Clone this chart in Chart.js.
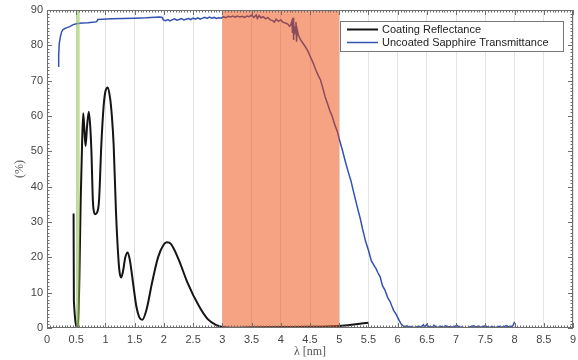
<!DOCTYPE html>
<html>
<head>
<meta charset="utf-8">
<script src="https://cdn.jsdelivr.net/npm/chart.js@4.4.1/dist/chart.umd.min.js"></script>
<style>
  html, body { margin: 0; padding: 0; background: #fff; }
  #wrap { width: 578px; height: 360px; }
</style>
</head>
<body>
<div id="wrap"><canvas id="chart" width="578" height="360"></canvas></div>
<script>
// Coating reflectance (%), [wavelength, value]
const reflectance = [
  [0.455, 32.4], [0.46, 7.7], [0.53, 0], [0.555, 15], [0.575, 35], [0.6, 52], [0.62, 60.8],
  [0.64, 56], [0.66, 51.5], [0.685, 57], [0.715, 61.2], [0.74, 57], [0.76, 50], [0.785, 36],
  [0.81, 32.5], [0.83, 32.2], [0.86, 32.8], [0.89, 36], [0.93, 52], [0.97, 63], [1.0, 67],
  [1.04, 68.1], [1.08, 65], [1.11, 60], [1.14, 52], [1.18, 33], [1.21, 22.8], [1.24, 16],
  [1.27, 14.3], [1.3, 16], [1.34, 20], [1.38, 21.4], [1.42, 19], [1.47, 13], [1.53, 6],
  [1.58, 3], [1.63, 2.3], [1.7, 5], [1.8, 13], [1.9, 20], [2.0, 23.7], [2.05, 24.3],
  [2.12, 23.8], [2.25, 19.5], [2.4, 13], [2.6, 6.2], [2.75, 2.5], [2.9, 0.8], [3.0, 0.3],
  [3.2, 0.1], [3.5, 0.2], [4.0, 0.3], [4.5, 0.35], [5.0, 0.6], [5.25, 1.0], [5.5, 1.5]
];

// Uncoated sapphire transmittance (%), [wavelength, value]
const transmittance = [
  [0.19, 74.1], [0.2, 77.5], [0.21, 80.5], [0.23, 82.5], [0.25, 83.8], [0.27, 84.4], [0.3, 84.7],
  [0.34, 85.0], [0.39, 85.3], [0.44, 85.8], [0.5, 86.1], [0.6, 86.3], [0.7, 86.4], [0.82, 86.6],
  [0.85, 86.7], [0.87, 87.3], [0.95, 87.4], [1.1, 87.5], [1.3, 87.6], [1.5, 87.7], [1.7, 87.8],
  [1.93, 88.0], [1.97, 87.9], [1.99, 87.2], [2.03, 87.0], [2.07, 87.3], [2.1, 86.9], [2.14, 87.2],
  [2.18, 87.5], [2.22, 87.1], [2.26, 87.3], [2.3, 87.6], [2.34, 87.2], [2.38, 87.4], [2.42, 87.6],
  [2.46, 87.3], [2.5, 87.7], [2.54, 87.4], [2.58, 87.8], [2.62, 87.4], [2.66, 87.7], [2.7, 87.9],
  [2.74, 87.6], [2.78, 88.0], [2.82, 87.7], [2.86, 87.9], [2.9, 87.6], [2.94, 87.8], [2.98, 87.7],
  [3.02, 88.1], [3.06, 87.8], [3.1, 88.2], [3.14, 88.0], [3.18, 88.3], [3.22, 88.0], [3.26, 88.3],
  [3.3, 88.0], [3.34, 88.2], [3.38, 87.9], [3.42, 88.3], [3.46, 88.1], [3.5, 88.5], [3.54, 87.9],
  [3.58, 88.6], [3.6, 87.6], [3.63, 88.4], [3.66, 87.8], [3.7, 88.1], [3.74, 87.5], [3.78, 87.9],
  [3.82, 87.2], [3.86, 87.0], [3.89, 86.6], [3.92, 87.4], [3.96, 86.8], [4.0, 87.2], [4.04, 86.5],
  [4.08, 86.3], [4.12, 86.0], [4.15, 85.4], [4.17, 85.8], [4.19, 86.8], [4.2, 83.5], [4.21, 87.8],
  [4.215, 81.5], [4.225, 86.0], [4.235, 83.0], [4.25, 85.2], [4.26, 86.6], [4.27, 81.0],
  [4.28, 84.5], [4.3, 83.0], [4.33, 81.8], [4.37, 80.8], [4.42, 79.6], [4.46, 78.5], [4.5, 77.0],
  [4.53, 75.9], [4.56, 74.8], [4.6, 73.0], [4.64, 71.5], [4.68, 70.2], [4.72, 67.9], [4.76, 65.4],
  [4.8, 63.5], [4.84, 61.5], [4.88, 59.9], [4.92, 57.7], [4.97, 55.5], [5.0, 53.5], [5.05, 50.6],
  [5.1, 47.4], [5.15, 44.4], [5.2, 41.7], [5.24, 38.9], [5.28, 36.2], [5.32, 33.5], [5.36, 31.0],
  [5.4, 28.0], [5.45, 24.6], [5.5, 22.0], [5.55, 19.0], [5.6, 17.6], [5.63, 16.8], [5.66, 15.7],
  [5.7, 14.5], [5.74, 12.0], [5.78, 10.8], [5.83, 8.6], [5.87, 7.5], [5.9, 6.2], [5.93, 5.0],
  [5.97, 4.0], [6.0, 3.0], [6.03, 2.0], [6.06, 1.1], [6.1, 0.5], [6.12, 0.3], [6.16, 0.6],
  [6.2, 0.2], [6.24, 0.4], [6.28, 0.1], [6.32, 0.3], [6.36, 0.5], [6.4, 0.2], [6.44, 0.9],
  [6.46, 0.3], [6.5, 1.0], [6.53, 0.3], [6.56, 0.4], [6.6, 0.2], [6.62, 0.8], [6.66, 0.2],
  [6.7, 0.3], [6.74, 0.5], [6.78, 0.2], [6.82, 0.6], [6.86, 0.3], [6.9, 0.4], [6.94, 0.2],
  [6.98, 0.5], [7.02, 0.7], [7.06, 0.2], [7.1, 0.3], [7.14, 0.1], [7.18, 0.0], [7.22, 0.2],
  [7.26, 0.4], [7.3, 0.6], [7.34, 0.3], [7.38, 0.5], [7.42, 0.2], [7.46, 0.4], [7.5, 0.6],
  [7.54, 0.3], [7.58, 0.2], [7.62, 0.4], [7.66, 0.1], [7.7, 0.3], [7.74, 0.5], [7.78, 0.2],
  [7.82, 0.4], [7.86, 0.7], [7.9, 0.3], [7.94, 0.5], [7.97, 0.6], [7.99, 1.3], [8.0, 1.8]
];

// Highlighted wavelength bands [from, to]
const greenBand = [0.5, 0.56];
const orangeBand = [3, 5];

const seriesLabels = ['Coating Reflectance', 'Uncoated Sapphire Transmittance'];
const xRange = [0, 9];
const yRange = [0, 90];

const SANS = "'Liberation Sans', Arial, sans-serif";
const SERIF = "'Liberation Serif', 'Times New Roman', serif";

function toPoints(arr) {
  return arr.map(function(p) { return { x: p[0], y: p[1] }; });
}

// bands go on top of the lines, semi transparent
const bandsPlugin = {
  id: 'bands',
  afterDatasetsDraw: function(chart) {
    const ctx = chart.ctx;
    const x = chart.scales.x;
    const area = chart.chartArea;
    ctx.save();
    ctx.fillStyle = 'rgba(150, 200, 90, 0.6)';
    ctx.fillRect(x.getPixelForValue(greenBand[0]), area.top,
      x.getPixelForValue(greenBand[1]) - x.getPixelForValue(greenBand[0]), area.bottom - area.top);
    ctx.fillStyle = 'rgba(235, 67, 0, 0.49)';
    ctx.fillRect(x.getPixelForValue(orangeBand[0]), area.top,
      x.getPixelForValue(orangeBand[1]) - x.getPixelForValue(orangeBand[0]), area.bottom - area.top);
    ctx.restore();
  }
};

// matlab style box, inward ticks and the legend
const boxPlugin = {
  id: 'box',
  afterDraw: function(chart) {
    const ctx = chart.ctx;
    const x = chart.scales.x;
    const y = chart.scales.y;
    const a = chart.chartArea;
    ctx.save();
    ctx.strokeStyle = '#6e6e6e';
    ctx.lineWidth = 1;
    ctx.strokeRect(a.left + 0.5, a.top + 0.5, a.right - a.left - 1, a.bottom - a.top - 1);

    ctx.beginPath();
    for (let i = 0; i <= 180; i++) {
      const px = Math.round(x.getPixelForValue(i * 0.05)) + 0.5;
      const len = (i % 10 === 0) ? 5 : 2.5;
      ctx.moveTo(px, a.bottom); ctx.lineTo(px, a.bottom - len);
      ctx.moveTo(px, a.top); ctx.lineTo(px, a.top + len);
    }
    for (let j = 0; j <= 90; j++) {
      const py = Math.round(y.getPixelForValue(j)) + 0.5;
      const len = (j % 10 === 0) ? 5 : 2.5;
      ctx.moveTo(a.left, py); ctx.lineTo(a.left + len, py);
      ctx.moveTo(a.right, py); ctx.lineTo(a.right - len, py);
    }
    ctx.stroke();

    // legend box
    const lw = 223, lh = 30;
    const lx = a.right - 10 - lw;
    const ly = a.top + 11;
    ctx.fillStyle = '#ffffff';
    ctx.fillRect(lx, ly, lw, lh);
    ctx.strokeStyle = '#777777';
    ctx.strokeRect(lx + 0.5, ly + 0.5, lw, lh);
    ctx.font = '11px ' + SANS;
    ctx.textBaseline = 'middle';
    chart.data.datasets.forEach(function(ds, i) {
      const rowY = ly + 8.5 + i * 13;
      ctx.strokeStyle = ds.borderColor;
      ctx.lineWidth = ds.borderWidth;
      ctx.beginPath();
      ctx.moveTo(lx + 7, rowY); ctx.lineTo(lx + 38, rowY);
      ctx.stroke();
      ctx.fillStyle = '#222222';
      ctx.fillText(ds.label, lx + 42, rowY + 0.5);
    });
    ctx.restore();
  }
};

const ctx = document.getElementById('chart');
new Chart(ctx, {
  type: 'line',
  data: {
    datasets: [
      {
        label: seriesLabels[0],
        data: toPoints(reflectance),
        borderColor: '#151515',
        borderWidth: 2,
        pointRadius: 0,
        cubicInterpolationMode: 'monotone',
        fill: false
      },
      {
        label: seriesLabels[1],
        data: toPoints(transmittance),
        borderColor: '#3352b2',
        borderWidth: 1.5,
        pointRadius: 0,
        tension: 0,
        fill: false
      }
    ]
  },
  options: {
    responsive: false,
    animation: false,
    events: [],
    layout: { padding: { top: 10, right: 5, left: 0, bottom: 0 } },
    plugins: {
      legend: { display: false },
      tooltip: { enabled: false }
    },
    scales: {
      x: {
        type: 'linear',
        min: xRange[0],
        max: xRange[1],
        afterFit: function(s) { s.height = 32; s.paddingLeft = 0; s.paddingRight = 0; },
        ticks: {
          stepSize: 0.5,
          padding: 5,
          color: '#454545',
          font: { family: SANS, size: 11 },
          maxRotation: 0,
          autoSkip: false,
          callback: function(v) { return String(Math.round(v * 10) / 10); }
        },
        grid: { color: '#e4e4e4', drawTicks: false },
        border: { display: false },
        title: {
          display: true,
          text: 'λ [nm]',
          color: '#555555',
          font: { family: SERIF, size: 12 },
          padding: { top: 0, bottom: 1 }
        }
      },
      y: {
        min: yRange[0],
        max: yRange[1],
        afterFit: function(s) { s.width = 47; s.paddingTop = 0; s.paddingBottom = 0; },
        ticks: {
          stepSize: 10,
          padding: 4,
          color: '#454545',
          font: { family: SANS, size: 11 }
        },
        grid: { display: false, drawTicks: false },
        border: { display: false },
        title: {
          display: true,
          text: '(%)',
          color: '#555555',
          font: { family: SERIF, size: 12 },
          padding: { top: 13, bottom: 0 }
        }
      }
    }
  },
  plugins: [bandsPlugin, boxPlugin]
});
</script>
</body>
</html>
